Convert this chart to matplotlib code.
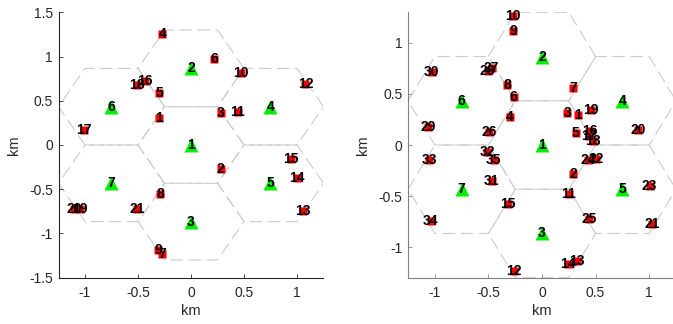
import numpy as np
import matplotlib
matplotlib.use("Agg")
import matplotlib.pyplot as plt

plt.rcParams['font.family'] = ['Liberation Sans', 'DejaVu Sans']
plt.rcParams['lines.scale_dashes'] = False

# base stations (same in both panels), km
bs_x = [0, 0, 0, 0.75, 0.75, -0.75, -0.75]
bs_y = [0, 0.866, -0.866, 0.433, -0.433, 0.433, -0.433]

# users, left panel
ue1_x = [-0.30, 0.28, 0.28, -0.27, -0.30, 0.217, -0.269, -0.292, -0.309, 0.47, 0.44,
         1.08, 1.06, 0.997, 0.943, -0.434, -1.007, -0.51, -1.047, -1.106, -0.506]
ue1_y = [0.31, -0.268, 0.36, 1.26, 0.59, 0.97, -1.23, -0.558, -1.19, 0.815, 0.37,
         0.69, -0.742, -0.373, -0.158, 0.72, 0.165, 0.68, -0.72, -0.72, -0.723]

# users, right panel
ue2_x = [0.332, 0.293, 0.234, -0.30, 0.316, -0.265, 0.29, -0.324, -0.271, -0.268,
         0.249, -0.262, 0.324, 0.246, -0.32, 0.449, 0.44, 0.479, 0.458, 0.894,
         1.03, 0.505, 1.003, 0.433, 0.436, -0.495, -0.47, -0.508, -1.06, -1.028,
         -0.47, -0.51, -1.05, -1.04, -0.45]
ue2_y = [0.295, -0.282, 0.313, 0.276, 0.117, 0.467, 0.558, 0.587, 1.116, 1.262,
         -0.477, -1.23, -1.139, -1.166, -0.575, 0.139, 0.09, 0.039, 0.347, 0.149,
         -0.776, -0.133, -0.403, -0.143, -0.727, 0.13, 0.756, 0.727, 0.18, 0.717,
         -0.354, -0.07, -0.143, -0.744, -0.15]

R = 0.5  # cell radius
W, H = 673, 324
fig = plt.figure(figsize=(W / 100, H / 100), dpi=100)

def panel(rect, ux, uy, ylim, yticks, axcol):
    ax = fig.add_axes(rect)
    ang = np.deg2rad(np.arange(0, 361, 60))
    for cx, cy in zip(bs_x, bs_y):
        ax.plot(cx + R * np.cos(ang), cy + R * np.sin(ang), color=(0.8, 0.8, 0.8),
                lw=0.8, linestyle=(0, (9, 4)), zorder=1)
    ax.plot(bs_x, bs_y, '^', color='#00ee00', ms=10.5, mec='none', zorder=2)
    ax.plot(ux, uy, 's', color='red', ms=6, mec='none', zorder=3)
    for i, (x, y) in enumerate(zip(bs_x, bs_y)):
        ax.text(x, y, str(i + 1), ha='center', va='center', fontsize=10,
                fontweight='bold', zorder=4)
    for i, (x, y) in enumerate(zip(ux, uy)):
        ax.text(x, y, str(i + 1), ha='center', va='center', fontsize=10,
                fontweight='bold', zorder=4)
    ax.set_xlim(-1.25, 1.25)
    ax.set_ylim(*ylim)
    ax.set_xticks([-1, -0.5, 0, 0.5, 1])
    ax.set_xticklabels(['-1', '-0.5', '0', '0.5', '1'])
    ax.set_yticks(yticks)
    ax.set_yticklabels(['%g' % t for t in yticks])
    for s in ['top', 'right']:
        ax.spines[s].set_visible(False)
    for s in ['left', 'bottom']:
        ax.spines[s].set_color(axcol)
        ax.spines[s].set_linewidth(0.8)
    ax.tick_params(direction='in', length=3, width=0.6, color=axcol,
                   labelcolor='#262626', labelsize=10)
    ax.tick_params(axis='x', pad=6)
    ax.tick_params(axis='y', pad=4)
    ax.set_xlabel('km', fontsize=10.5, color='#262626', labelpad=3)
    ax.set_ylabel('km', fontsize=10.5, color='#262626', labelpad=6)
    return ax

y0 = (H - 277.7) / H
hh = 265.4 / H
panel([58.5 / W, y0, 265 / W, hh], ue1_x, ue1_y, (-1.5, 1.5),
      [-1.5, -1, -0.5, 0, 0.5, 1, 1.5], '#262626')
panel([408 / W, y0, 268 / W, hh], ue2_x, ue2_y, (-1.299, 1.299),
      [-1, -0.5, 0, 0.5, 1], '#808080')

fig.savefig('out.png', dpi=100)
